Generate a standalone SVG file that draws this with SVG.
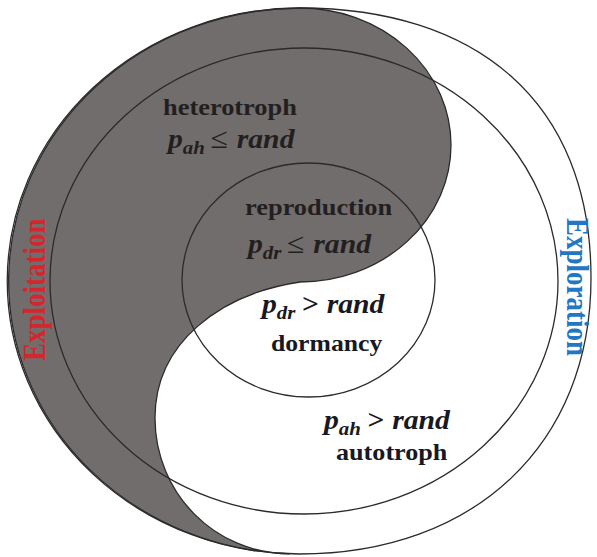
<svg xmlns="http://www.w3.org/2000/svg" width="597" height="557" viewBox="0 0 597 557">
  <style>
    .line { fill: none; stroke: #2b2b2b; stroke-width: 1.3; }
    .lbl { font-family: "Liberation Serif", "Times New Roman", serif; font-weight: bold; font-size: 24px; }
    .math { font-family: "Liberation Serif", "Times New Roman", serif; font-weight: bold; font-style: italic; font-size: 27px; }
    .sub { font-size: 19px; }
    .rel { font-style: normal; }
    .le { font-size: 29px; font-weight: normal; }
    .on-dark { fill: #231f20; }
    .on-light { fill: #181822; }
    .side { font-family: "Liberation Serif", "Times New Roman", serif; font-weight: bold; font-size: 27px; }
  </style>

  <defs>
    <!-- exploitation half: outer left arc, S-shaped divider, upper lobe -->
    <path id="dark-shape" d="M 300 8 A 292.5 273 0 0 0 290 553.8 C 215 554 155 493 155 418 C 155 343 220 294 300 282 A 151 137 0 0 0 300 8 Z"/>
  </defs>

  <rect width="597" height="557" fill="#ffffff"/>

  <g id="exploitation-region">
    <use href="#dark-shape" fill="#716d6c"/>
  </g>

  <!-- outer boundary: left half shared with the dark region, right half free -->
  <g id="outer-boundary">
    <path class="line" d="M 300 8 A 292.5 273 0 0 0 299.5 554
      C 475 554 591 443.6 591 278
      C 591 100 475 8 300 8 Z"/>
  </g>

  <!-- heterotroph / autotroph ring -->
  <g id="trophic-ring">
    <ellipse class="line" cx="304" cy="281" rx="254" ry="233"/>
  </g>

  <!-- reproduction / dormancy core -->
  <g id="reproduction-core">
    <ellipse class="line" cx="308.5" cy="280" rx="126.5" ry="117"/>
  </g>

  <!-- outline of the dark region drawn over the rings -->
  <use href="#dark-shape" class="line"/>

  <g id="label-heterotroph">
    <text class="lbl on-dark" transform="translate(163,115) scale(1.1,1)">heterotroph</text>
    <text class="math on-dark" transform="translate(168,148) scale(1.1,1)">p<tspan class="sub" dy="6">ah</tspan><tspan class="rel le" dy="-6" dx="5">≤</tspan><tspan dx="8">rand</tspan></text>
  </g>

  <g id="label-reproduction">
    <text class="lbl on-dark" transform="translate(245,215) scale(1.1,1)">reproduction</text>
    <text class="math on-dark" transform="translate(248,253) scale(1.1,1)">p<tspan class="sub" dy="6">dr</tspan><tspan class="rel le" dy="-6" dx="5">≤</tspan><tspan dx="8">rand</tspan></text>
  </g>

  <g id="label-dormancy">
    <text class="math on-light" transform="translate(262,313) scale(1.1,1)">p<tspan class="sub" dy="6">dr</tspan><tspan class="rel" dy="-6" dx="6">&gt;</tspan><tspan dx="7">rand</tspan></text>
    <text class="lbl on-light" transform="translate(271,351) scale(1.07,1)">dormancy</text>
  </g>

  <g id="label-autotroph">
    <text class="math on-light" transform="translate(324,429) scale(1.1,1)">p<tspan class="sub" dy="6">ah</tspan><tspan class="rel" dy="-6" dx="6">&gt;</tspan><tspan dx="7">rand</tspan></text>
    <text class="lbl on-light" transform="translate(336,460) scale(1.09,1)">autotroph</text>
  </g>

  <g id="label-exploitation">
    <text class="side" fill="#d4262c" transform="translate(45,361) scale(1.2,1) rotate(-90)">Exploitation</text>
  </g>

  <g id="label-exploration">
    <text class="side" fill="#2277c4" transform="translate(567,218) scale(1.2,1) rotate(90)">Exploration</text>
  </g>
</svg>
